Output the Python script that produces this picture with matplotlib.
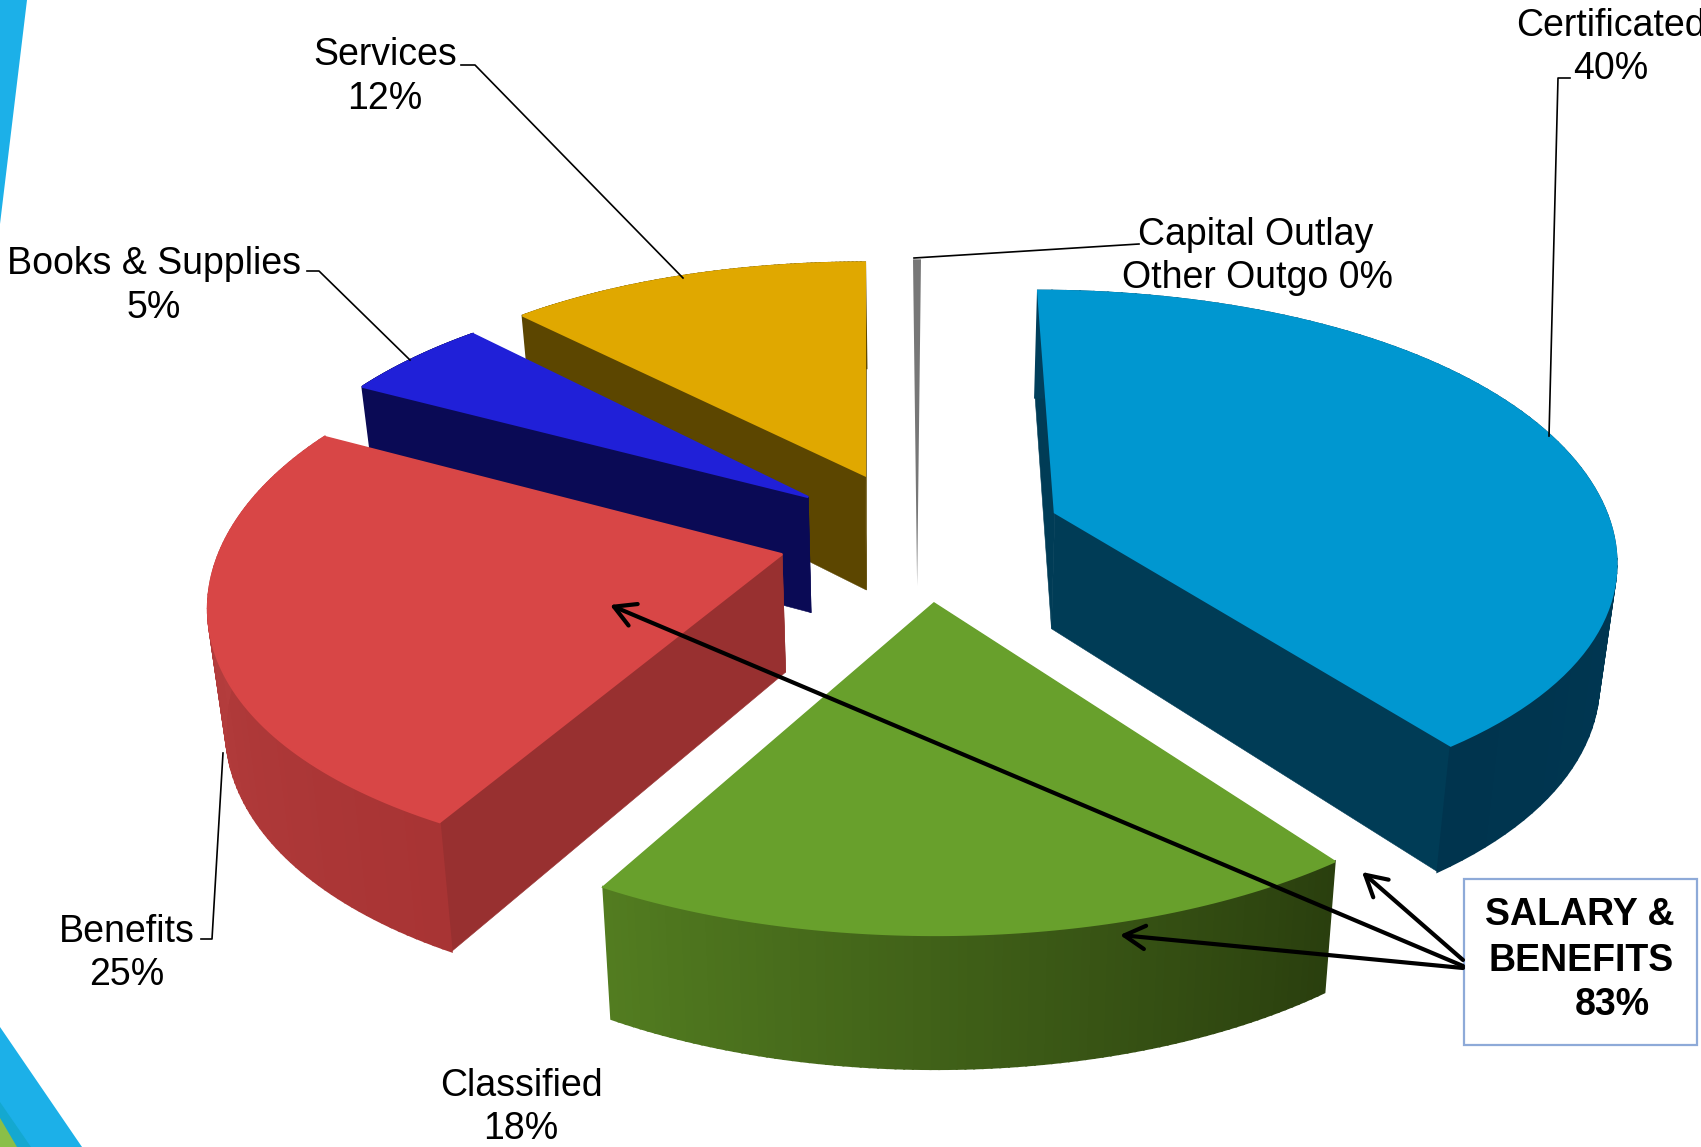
import numpy as np
import matplotlib
matplotlib.use("Agg")
import matplotlib.pyplot as plt
from matplotlib.colors import to_rgb
from matplotlib.patches import Polygon, Rectangle

plt.rcParams["font.family"] = ["Liberation Sans", "DejaVu Sans"]

# clockwise from 12 o'clock
names = ["Certificated", "Classified", "Benefits", "Books & Supplies", "Services", "Capital Outlay"]
values = [40, 18, 25, 5, 12, 0]

# painter's order, back slices first
draw_order = [4, 5, 3, 2, 0, 1]

top_colors = ["#0097d0", "#68a02c", "#d84646", "#2020d8", "#e0a800", "#777777"]
radial_colors = ["#003c56", "#2a3f0e", "#983030", "#0a0a55", "#5c4600", "#777777"]
arc_start_colors = ["#003f5c", "#2a3f0e", "#a83434", "#0a0a55", "#5c4600", "#777777"]
arc_end_colors = ["#00344e", "#527c20", "#bb4242", "#0a0a55", "#5c4600", "#777777"]

# small per-slice corrections to the explosion, in pixels and as a factor on x
x_nudge = [3, 3, -6, -7, -57, -5]
y_nudge = [0, 7, 5, 3, 0, 0]
explode_x = [1, 1, 1, 1, 0, 1]

W, H = 1701, 1147
CX, CY = 922.0, 531.6
SCALE_X, SCALE_Y = 575.0, 260.4
PERSPECTIVE = 0.15
EXPLODE = 0.24
DEPTH = 117.0
SIDE_FLATTEN = 0.03


def project(x, y, dx=0.0, dy=0.0):
    w = 1 - PERSPECTIVE * y
    return CX + SCALE_X * x / w + dx, CY + SCALE_Y * y / w + dy


def drop(px, py):
    # bottom rim of the extrusion, slightly narrower since it is further away
    return CX + (px - CX) * 0.975, py + DEPTH + (py - CY) * 0.042


def wall(ax, p0, p1, color, z, lw=0.4):
    b0, b1 = drop(*p0), drop(*p1)
    ax.add_patch(Polygon([p0, p1, b1, b0], closed=True, fc=color, ec=color, lw=lw, zorder=z))


fig = plt.figure(figsize=(W / 100, H / 100), dpi=100)
ax = fig.add_axes([0, 0, 1, 1])
ax.set_xlim(0, W)
ax.set_ylim(H, 0)
ax.axis("off")

# slide decoration in the left corners
ax.add_patch(Polygon([(0, 0), (27, 0), (0, 224)], fc="#1cb0e8", ec="none"))
ax.add_patch(Polygon([(0, 1027), (82, 1147), (0, 1147)], fc="#1cb0e8", ec="none"))
ax.add_patch(Polygon([(0, 1102), (31, 1147), (0, 1147)], fc="#14a8d0", ec="none"))
ax.add_patch(Polygon([(0, 1118), (17, 1147), (0, 1147)], fc="#8abf48", ec="none"))

edges = np.radians(np.concatenate([[0], np.cumsum(values)]) * 3.6)

for z, i in enumerate(draw_order):
    t0, t1 = edges[i], edges[i + 1]
    mid = (t0 + t1) / 2
    ox, oy = EXPLODE * np.sin(mid) * explode_x[i], -EXPLODE * np.cos(mid)
    dx, dy = x_nudge[i], y_nudge[i]
    apex = project(ox, oy, dx, dy)

    if values[i] == 0:
        # zero share: only a thin tapering sliver shows
        back = project(ox + np.sin(t0), oy - np.cos(t0), dx, dy)
        tip = drop(*apex)
        ax.add_patch(Polygon([(back[0] - 4, back[1]), (back[0] + 4, back[1]), tip],
                             fc=top_colors[i], ec="none", zorder=z))
        continue

    thetas = np.linspace(t0, t1, 90)
    radii = 1 - SIDE_FLATTEN * np.sin(thetas) ** 4
    rim = [project(ox + r * np.sin(t), oy - r * np.cos(t), dx, dy) for t, r in zip(thetas, radii)]

    wall(ax, apex, rim[0], radial_colors[i], z)
    wall(ax, apex, rim[-1], radial_colors[i], z)

    # thicker edges so neighbouring strips overlap without seams
    c0, c1 = np.array(to_rgb(arc_start_colors[i])), np.array(to_rgb(arc_end_colors[i]))
    for k in range(len(rim) - 1):
        wall(ax, rim[k], rim[k + 1], tuple(c0 + (c1 - c0) * k / (len(rim) - 2)), z, lw=1.5)

    ax.add_patch(Polygon([apex] + rim, closed=True, fc=top_colors[i], ec=top_colors[i],
                         lw=1.5, zorder=z))

# leader lines
leaders = [
    [(461, 65), (475, 65), (683, 278)],
    [(307, 271), (319, 271), (410, 360)],
    [(1570, 78), (1558, 78), (1549, 436)],
    [(1139, 244), (914, 258)],
    [(201, 939), (212, 939), (223, 753)],
]
for pts in leaders:
    xs, ys = zip(*pts)
    ax.plot(xs, ys, color="black", lw=1.2, zorder=20)

labels = [
    ("Services", 385, 55), ("12%", 385, 99),
    ("Books & Supplies", 154, 264), ("5%", 154, 308),
    ("Certificated", 1611, 26), ("40%", 1611, 69),
    ("Capital Outlay", 1256, 235), ("Other Outgo 0%", 1257, 278),
    ("Benefits", 127, 932), ("25%", 127, 975),
    ("Classified", 521, 1086), ("18%", 521, 1129),
]
for text, x, y in labels:
    ax.text(x, y, text, fontsize=27, ha="center", va="center", zorder=21, clip_on=True)

# salary and benefits call-out
ax.add_patch(Rectangle((1464, 879), 233, 166, fc="white", ec="#8eaad8", lw=1.6, zorder=22))
for text, x, y in [("SALARY &", 1580, 915), ("BENEFITS", 1581, 961), ("83%", 1612, 1005)]:
    ax.text(x, y, text, fontsize=27, fontweight="bold", ha="center", va="center", zorder=23)

for tip, start in [((1362, 872), (1463, 960)),
                   ((610, 605), (1463, 966)),
                   ((1120, 935), (1463, 968))]:
    ax.annotate("", xy=tip, xytext=start, zorder=24,
                arrowprops=dict(arrowstyle="->,head_length=0.75,head_width=0.42", color="black",
                                lw=3.0, mutation_scale=20, shrinkA=0, shrinkB=0))

fig.savefig("out.png", dpi=100, facecolor="white")
